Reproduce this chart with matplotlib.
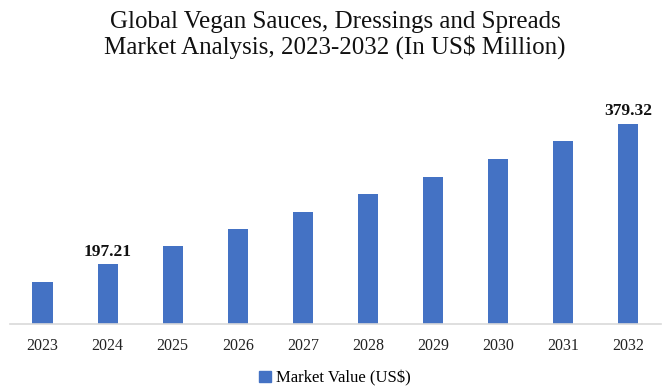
import matplotlib
matplotlib.use('Agg')
import matplotlib.pyplot as plt
import matplotlib.patches as mpatches

BLUE = '#4472C4'
GRID = '#d9d9d9'

years = ['2023', '2024', '2025', '2026', '2027', '2028', '2029', '2030', '2031', '2032']
values = [174.6, 197.21, 221.0, 243.1, 265.2, 288.3, 310.8, 334.2, 356.7, 379.32]
labelled = {'2024': '197.21', '2032': '379.32'}

plt.rcParams.update({'font.family': 'Liberation Serif'})

fig = plt.figure(figsize=(6.7, 3.88), dpi=100)
ax = fig.add_axes([0.0149, 0.1642, 0.9716, 0.578])

x = list(range(len(years)))
bars = ax.bar(x, values, width=0.31, color=BLUE, zorder=2)

for xi, yr, val in zip(x, years, values):
    if yr in labelled:
        ax.text(xi, val + 6, labelled[yr], ha='center', va='bottom',
                fontsize=12.5, fontweight='bold', color='#111111')

ax.set_xlim(-0.5, len(years) - 0.5)
ax.set_ylim(119.16, 410.5)
ax.set_xticks(x)
ax.set_xticklabels(years, fontsize=11.5, color='#222222')
ax.set_yticks([])
ax.tick_params(axis='x', length=0, pad=10)
for side in ['top', 'right', 'left']:
    ax.spines[side].set_visible(False)
ax.spines['bottom'].set_color(GRID)
ax.spines['bottom'].set_linewidth(1.2)

fig.text(0.5, 0.972, 'Global Vegan Sauces, Dressings and Spreads\nMarket Analysis, 2023-2032 (In US$ Million)',
         ha='center', va='top', fontsize=18, color='#111111', linespacing=1.1)

handle = mpatches.Patch(color=BLUE, label='Market Value (US$)')
fig.legend(handles=[handle], loc='center', bbox_to_anchor=(0.5, 0.025),
           frameon=False, fontsize=12, handlelength=0.7, handleheight=0.7,
           handletextpad=0.3)

fig.savefig('out.png', dpi=100, facecolor='white')
